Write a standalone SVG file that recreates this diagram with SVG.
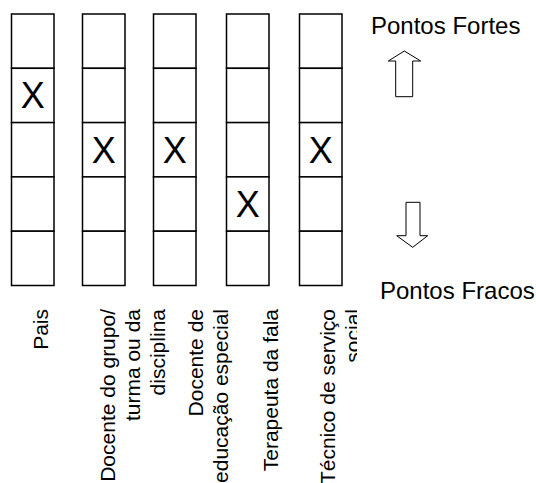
<svg xmlns="http://www.w3.org/2000/svg" width="536" height="483" viewBox="0 0 536 483">
<style>
.cell{fill:#fff;stroke:#000;stroke-width:1.5}
.x{font-family:"Liberation Sans",Arial,sans-serif;font-size:36px;fill:#000;text-anchor:middle}
.lbl{font-family:"Liberation Sans",Arial,sans-serif;font-size:21px;fill:#000;text-anchor:end}
.side{font-family:"Liberation Sans",Arial,sans-serif;font-size:24px;fill:#000}
.arrow{fill:#fff;stroke:#000;stroke-width:1}
</style>
<defs>
<clipPath id="clip5"><rect x="0" y="0" width="357" height="483"/></clipPath>
<g id="col">
<rect class="cell" x="0" y="14" width="42.5" height="54.3"/>
<rect class="cell" x="0" y="68.3" width="42.5" height="54.3"/>
<rect class="cell" x="0" y="122.6" width="42.5" height="54.3"/>
<rect class="cell" x="0" y="176.9" width="42.5" height="54.3"/>
<rect class="cell" x="0" y="231.2" width="42.5" height="54.3"/>
</g>
</defs>
<rect width="536" height="483" fill="#fff"/>
<g id="node-pais">
<use href="#col" x="11.5"/>
<text class="x" x="32.8" y="108.4">X</text>
<text class="lbl" transform="translate(48.3,309) rotate(-90)">Pais</text>
</g>
<g id="node-docente-grupo">
<use href="#col" x="82.5"/>
<text class="x" x="103.8" y="162.7">X</text>
<text class="lbl" transform="translate(115,309) rotate(-90)"><tspan x="0" y="0">Docente do grupo/</tspan><tspan x="0" dy="25">turma ou da</tspan><tspan x="0" dy="25">disciplina</tspan></text>
</g>
<g id="node-docente-especial">
<use href="#col" x="153.5"/>
<text class="x" x="174.8" y="162.7">X</text>
<text class="lbl" transform="translate(203.3,309) rotate(-90)"><tspan x="0" y="0">Docente de</tspan><tspan x="0" dy="25">educação especial</tspan></text>
</g>
<g id="node-terapeuta">
<use href="#col" x="226.5"/>
<text class="x" x="247.8" y="217">X</text>
<text class="lbl" transform="translate(278.3,309) rotate(-90)">Terapeuta da fala</text>
</g>
<g id="node-tecnico">
<use href="#col" x="299.5"/>
<text class="x" x="320.8" y="162.7">X</text>
<g clip-path="url(#clip5)">
<text class="lbl" transform="translate(334.5,309) rotate(-90)"><tspan x="0" y="0">Técnico de serviço</tspan><tspan x="0" dy="25">social</tspan></text>
</g>
</g>
<g id="node-fortes">
<text class="side" x="371" y="34.3">Pontos Fortes</text>
</g>
<g id="node-fracos">
<text class="side" x="380" y="299">Pontos Fracos</text>
</g>
<g id="connectors">
<polygon class="arrow" points="404.3,51 420.7,61 412.7,61 412.7,96.7 395.7,96.7 395.7,61 388.3,61"/>
<polygon class="arrow" points="406,202.3 420,202.3 420,235.7 427.7,235.7 412.7,247.3 396.7,235.7 406,235.7"/>
</g>
</svg>
